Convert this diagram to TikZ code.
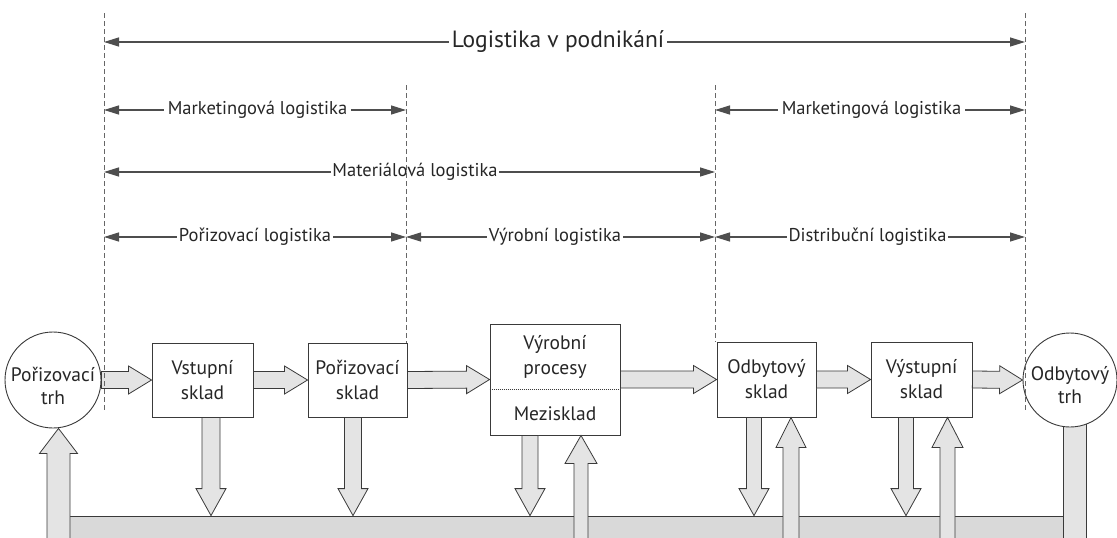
\documentclass[tikz,border=0pt]{standalone}
\usepackage{fontspec}
\setmainfont{PT Sans}
\usetikzlibrary{calc,arrows.meta}
\definecolor{ink}{HTML}{3A3A3A}
\definecolor{diminkk}{HTML}{4E4E4E}
\definecolor{arrowfill}{HTML}{E4E4E4}
\definecolor{bandfill}{HTML}{D9D9D9}
\tikzset{
  box/.style={draw=ink, line width=0.9pt, fill=white, align=center,
    font=\fontsize{19.5}{25}\selectfont, text=black!85},
  market/.style={draw=ink, line width=0.9pt, fill=white, circle, align=center,
    font=\fontsize{19.5}{23}\selectfont, text=black!85, inner sep=0pt},
  txt/.style={align=center, font=\fontsize{19.5}{25}\selectfont, text=black!85},
  dim/.style={{Triangle[length=15pt,width=9pt]}-{Triangle[length=15pt,width=9pt]},
    line width=1.3pt, draw=diminkk},
  lab/.style={fill=white, inner xsep=2pt, inner ysep=1pt, text=black!85,
    font=\fontsize{18.5}{20}\selectfont},
  boundary/.style={draw=black!60, line width=1pt, dash pattern=on 5pt off 3pt},
  % hollow block arrow: shaft half-width, head half-width, head length
  blk/.style n args={3}{fill=arrowfill, draw=ink, line width=0.8pt, line join=miter,
    to path={let \p1=(\tikztostart), \p2=(\tikztotarget),
      \n1={atan2(\y2-\y1,\x2-\x1)}, \p3=($(\p2)+(\n1:-#3)$) in
      ($(\p1)+(\n1+90:#1)$) -- ($(\p3)+(\n1+90:#1)$) -- ($(\p3)+(\n1+90:#2)$)
      -- (\p2) -- ($(\p3)+(\n1-90:#2)$) -- ($(\p3)+(\n1-90:#1)$)
      -- ($(\p1)+(\n1-90:#1)$) -- cycle}},
  shaft/.style={fill=arrowfill, draw=ink, line width=0.8pt}
}
\begin{document}
\begin{tikzpicture}[x=1pt,y=-1pt]
\useasboundingbox (0,0) rectangle (1117,538);

% boundaries between the logistics domains
\coordinate (d1t) at (104,13);  \coordinate (d1b) at (104,410);
\coordinate (d2t) at (406,85);  \coordinate (d2b) at (406,343);
\coordinate (d3t) at (715,85);  \coordinate (d3b) at (715,342);
\coordinate (d4t) at (1025,13); \coordinate (d4b) at (1025,410);
% rows of the span arrows
\coordinate (r1) at (0,42);
\coordinate (r2) at (0,110);
\coordinate (r3) at (0,172);
\coordinate (r4) at (0,237);

\draw[dim] (d1t |- r1) -- node[lab, font=\fontsize{23.5}{26}\selectfont, inner xsep=3pt, xshift=-6.5pt]{Logistika v podnikání} (d4t |- r1);
\draw[dim] (d1t |- r2) -- node[lab, inner xsep=4pt, xshift=2.5pt]{Marketingová logistika} (d2t |- r2);
\draw[dim] (d3t |- r2) -- node[lab, inner xsep=4pt, xshift=1.5pt]{Marketingová logistika} (d4t |- r2);
\draw[dim] (d1t |- r3) -- node[lab, inner xsep=1pt, xshift=5.5pt]{Materiálová logistika} (d3t |- r3);
\draw[dim] (d1t |- r4) -- node[lab]{Pořizovací logistika} (d2t |- r4);
\draw[dim] (d2t |- r4) -- node[lab, xshift=-5.5pt]{Výrobní logistika} (d3t |- r4);
\draw[dim] (d3t |- r4) -- node[lab, xshift=-2.5pt]{Distribuční logistika} (d4t |- r4);

% return band along the bottom
\node[fill=bandfill, draw=ink, line width=0.8pt, minimum width=1039pt, minimum height=29pt,
  inner sep=0pt] (band) at (566.5,530.5) {};

% markets and stores
\node[market, minimum size=96pt] (pt) at (53,380) {};
\node[txt, font=\fontsize{19.5}{23}\selectfont] (pttext) at (53,386) {Pořizovací\\trh};
\node[box, minimum width=101pt, minimum height=74pt] (vs) at (202.5,380) {Vstupní\\sklad};
\node[box, minimum width=99pt, minimum height=74pt] (ps) at (357.5,380) {Pořizovací\\sklad};
\node[box, minimum width=130pt, minimum height=111pt] (vp) at (555,379.5) {};
\node[txt] (vpa) at (555,357) {Výrobní\\procesy};
\node[txt] (vpb) at (555,414) {Mezisklad};
\draw[ink, line width=1pt, dash pattern=on 1pt off 1pt] (vp.west |- 0,389) -- (vp.east |- 0,389);
\node[box, minimum width=99pt, minimum height=75pt] (os) at (766.5,379.5) {Odbytový\\sklad};
\node[box, minimum width=101pt, minimum height=75pt] (vys) at (921.5,379.5) {Výstupní\\sklad};

% material flow
\draw[blk={8.5pt}{14pt}{23pt}] (pt.east) to (vs.west);
\draw[blk={8.5pt}{14pt}{23pt}] (vs.east) to (ps.west);
\draw[blk={8.5pt}{14pt}{23pt}] (ps.east) to (vp.west);
\draw[blk={8.5pt}{14pt}{23pt}] (vp.east) to (os.west);
\draw[blk={8.5pt}{14pt}{23pt}] (os.east) to (vys.west);

% flows down into the band
\draw[blk={9pt}{15pt}{27pt}] ([xshift=8.5pt]vs.south) to ([xshift=8.5pt]vs.south |- band.north);
\draw[blk={8.5pt}{15pt}{27pt}] ([xshift=-4.5pt]ps.south) to ([xshift=-4.5pt]ps.south |- band.north);
\draw[blk={8pt}{15pt}{27pt}] ([xshift=-25pt]vp.south) to ([xshift=-25pt]vp.south |- band.north);
\draw[blk={7.5pt}{15pt}{27pt}] ([xshift=-12.5pt]os.south) to ([xshift=-12.5pt]os.south |- band.north);
\draw[blk={7.5pt}{15pt}{27pt}] ([xshift=-15.5pt]vys.south) to ([xshift=-15.5pt]vys.south |- band.north);

% flows up out of the band
\draw[blk={7pt}{16pt}{28pt}] ([xshift=26pt]vp.south |- band.south) to ([xshift=26pt]vp.south);
\draw[blk={8pt}{15pt}{30pt}] ([xshift=24.5pt]os.south |- band.south) to ([xshift=24.5pt]os.south);
\draw[blk={7.5pt}{15.5pt}{30pt}] ([xshift=26pt]vys.south |- band.south) to ([xshift=26pt]vys.south);
\draw[blk={11.5pt}{19pt}{25pt}] ([xshift=5.5pt]pt.south |- band.south) to ([xshift=5.5pt]pt.south);

% sales market sits on top of its return column
\coordinate (otc) at (1070,380);
\draw[shaft] ([xshift=-7pt]otc) rectangle ([xshift=16pt]otc |- band.south);
\node[market, minimum size=94pt] (ot) at (otc) {};
\node[txt, font=\fontsize{19.5}{23}\selectfont] (ottext) at (1070,385) {Odbytový\\trh};
\draw[blk={8.5pt}{14pt}{23pt}] (vys.east) to (ot.west);

% domain boundaries
\draw[boundary] (d1t) -- (d1b);
\draw[boundary] (d2t) -- (d2b);
\draw[boundary] (d3t) -- (d3b);
\draw[boundary] (d4t) -- (d4b);
\end{tikzpicture}
\end{document}
